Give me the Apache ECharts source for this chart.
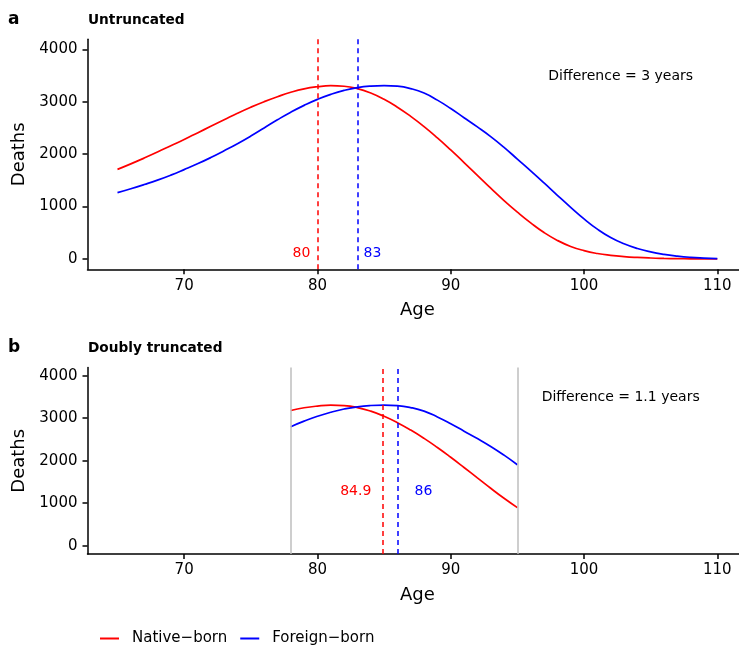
<!DOCTYPE html>
<html>
<head>
<meta charset="utf-8">
<script src="https://cdn.jsdelivr.net/npm/echarts@6/dist/echarts.min.js"></script>
<style>
  html, body { margin: 0; padding: 0; background: #ffffff; }
  #chart { width: 739px; height: 646px; }
</style>
</head>
<body>
<div id="chart"></div>
<script>
// ---- data ----
const ages = [65, 66, 67, 68, 69, 70, 71, 72, 73, 74, 75, 76, 77, 78, 79, 80, 81, 82, 83, 84, 85, 86, 87,
  88, 89, 90, 91, 92, 93, 94, 95, 96, 97, 98, 99, 100, 101, 102, 103, 104, 105, 106, 107, 108, 109, 110];
const nativeDeaths = [1710, 1815, 1925, 2040, 2160, 2280, 2405, 2530, 2655, 2780, 2895, 3000, 3095, 3180,
  3245, 3285, 3305, 3295, 3250, 3165, 3045, 2895, 2720, 2525, 2310, 2080, 1840, 1595, 1350, 1115, 895,
  690, 505, 355, 240, 160, 105, 70, 46, 30, 19, 12, 7, 4, 2, 1];
const foreignDeaths = [1265, 1340, 1420, 1505, 1600, 1705, 1815, 1935, 2065, 2200, 2345, 2500, 2655, 2800,
  2930, 3045, 3140, 3215, 3268, 3298, 3308, 3296, 3250, 3165, 3030, 2870, 2695, 2520, 2335, 2130, 1905,
  1680, 1450, 1215, 985, 765, 570, 410, 290, 200, 135, 88, 55, 32, 18, 8];
const seriesNames = ['Native\u2212born', 'Foreign\u2212born'];
const panelTags = ['a', 'b'];
const panelTitles = ['Untruncated', 'Doubly truncated'];
const nativeMeans = [80, 84.9];     // mean age at death, native-born (panel a, b)
const foreignMeans = [83, 86];      // mean age at death, foreign-born (panel a, b)
const differenceYears = ['3', '1.1'];
const truncationAges = [78, 95];    // observation window in panel b
const xTicks = [70, 80, 90, 100, 110];
const yTicks = [0, 1000, 2000, 3000, 4000];

// ---- styles ----
const RED = '#ff0000', BLUE = '#0000ff', FONT = 'DejaVu Sans';
const xMin = 62.75, xMax = 112.25, yMin = -196, yMax = 4190;

function pairs(from, to, values) {
  const out = [];
  ages.forEach((a, i) => { if (a >= from && a <= to) out.push([a, values[i]]); });
  return out;
}

const grids = [
  { left: 87.5, width: 659.8, top: 39.3, height: 230, outerBoundsMode: 'none', containLabel: false },
  { left: 87.5, width: 659.8, top: 367.6, height: 186.4, outerBoundsMode: 'none', containLabel: false }
];

function xAxisFor(i) {
  return {
    gridIndex: i, type: 'value', min: xMin, max: xMax,
    name: 'Age', nameLocation: 'middle', nameGap: 32,
    nameTextStyle: { fontFamily: FONT, fontSize: 18, color: '#000' },
    axisLine: { show: true, onZero: false, lineStyle: { color: '#000', width: 1.5 } },
    axisTick: { show: true, length: 5, customValues: xTicks, lineStyle: { color: '#000', width: 1.5 } },
    axisLabel: { customValues: xTicks, margin: 9, fontFamily: FONT, fontSize: 15, color: '#000',
      formatter: v => String(v) },
    splitLine: { show: false }
  };
}
function yAxisFor(i) {
  return {
    gridIndex: i, type: 'value', min: yMin, max: yMax,
    name: 'Deaths', nameLocation: 'middle', nameGap: 50,
    nameTextStyle: { fontFamily: FONT, fontSize: 18, color: '#000' },
    axisLine: { show: true, onZero: false, lineStyle: { color: '#000', width: 1.5 } },
    axisTick: { show: true, length: 5, customValues: yTicks, lineStyle: { color: '#000', width: 1.5 } },
    axisLabel: { customValues: yTicks, margin: 10, fontFamily: FONT, fontSize: 15, color: '#000',
      formatter: v => String(v) },
    splitLine: { show: false }
  };
}

function vline(x, color, dashed) {
  return {
    xAxis: x,
    lineStyle: { color: color, width: 1.5, type: dashed ? [5, 4] : 'solid' }
  };
}

function curve(i, name, color, data, lines) {
  return {
    type: 'line', name: name, xAxisIndex: i, yAxisIndex: i, data: data,
    showSymbol: false, smooth: true, color: color, z: 3,
    lineStyle: { color: color, width: 1.7 },
    markLine: { silent: true, symbol: ['none', 'none'], label: { show: false }, animation: false, data: lines }
  };
}

function textMark(i, x, y, text, color, size, dx, dy) {
  return {
    type: 'scatter', xAxisIndex: i, yAxisIndex: i, data: [[x, y]], symbolSize: 0, silent: true, z: 5,
    itemStyle: { opacity: 1 },
    label: { show: true, position: 'inside', formatter: text, color: color, fontFamily: FONT,
      fontSize: size, offset: [dx, dy], opacity: 1 }
  };
}

const series = [
  curve(0, seriesNames[0], RED, pairs(65, 110, nativeDeaths), [vline(nativeMeans[0], RED, true)]),
  curve(0, seriesNames[1], BLUE, pairs(65, 110, foreignDeaths), [vline(foreignMeans[0], BLUE, true)]),
  {
    type: 'line', xAxisIndex: 1, yAxisIndex: 1, data: [], silent: true, z: 1,
    markLine: { silent: true, symbol: ['none', 'none'], label: { show: false }, animation: false,
      data: truncationAges.map(a => vline(a, '#bebebe', false)) }
  },
  curve(1, seriesNames[0], RED, pairs(truncationAges[0], truncationAges[1], nativeDeaths), [vline(nativeMeans[1], RED, true)]),
  curve(1, seriesNames[1], BLUE, pairs(truncationAges[0], truncationAges[1], foreignDeaths), [vline(foreignMeans[1], BLUE, true)]),
  textMark(0, nativeMeans[0], 0, String(nativeMeans[0]), RED, 14, -16, -6),
  textMark(0, foreignMeans[0], 0, String(foreignMeans[0]), BLUE, 14, 15, -6),
  textMark(1, nativeMeans[1], 0, String(nativeMeans[1]), RED, 14, -27, -54),
  textMark(1, foreignMeans[1], 0, String(foreignMeans[1]), BLUE, 14, 26, -54),
  textMark(0, 102.75, 3480, 'Difference = ' + differenceYears[0] + ' years', '#000', 14, 0, 0),
  textMark(1, 102.75, 3480, 'Difference = ' + differenceYears[1] + ' years', '#000', 14, 0, 0)
];

const graphics = [];
[26, 354].forEach((base, i) => {
  graphics.push({ type: 'text', left: 8, top: base - 15,
    style: { text: panelTags[i], font: 'bold 17px "DejaVu Sans"', fill: '#000' } });
  graphics.push({ type: 'text', left: 88, top: base - 13,
    style: { text: panelTitles[i], font: 'bold 13.7px "DejaVu Sans"', fill: '#000' } });
});

const chart = echarts.init(document.getElementById('chart'), null, { renderer: 'canvas' });
chart.setOption({
  animation: false,
  backgroundColor: '#ffffff',
  textStyle: { fontFamily: FONT },
  grid: grids,
  xAxis: [xAxisFor(0), xAxisFor(1)],
  yAxis: [yAxisFor(0), yAxisFor(1)],
  legend: {
    left: 100, top: 631, padding: 0, itemWidth: 19, itemHeight: 2, itemGap: 13,
    textStyle: { fontFamily: FONT, fontSize: 15, color: '#000', padding: [0, 0, 0, 8] },
    data: [
      { name: seriesNames[0], icon: 'rect', itemStyle: { color: RED } },
      { name: seriesNames[1], icon: 'rect', itemStyle: { color: BLUE } }
    ]
  },
  graphic: graphics,
  series: series
});
</script>
</body>
</html>
